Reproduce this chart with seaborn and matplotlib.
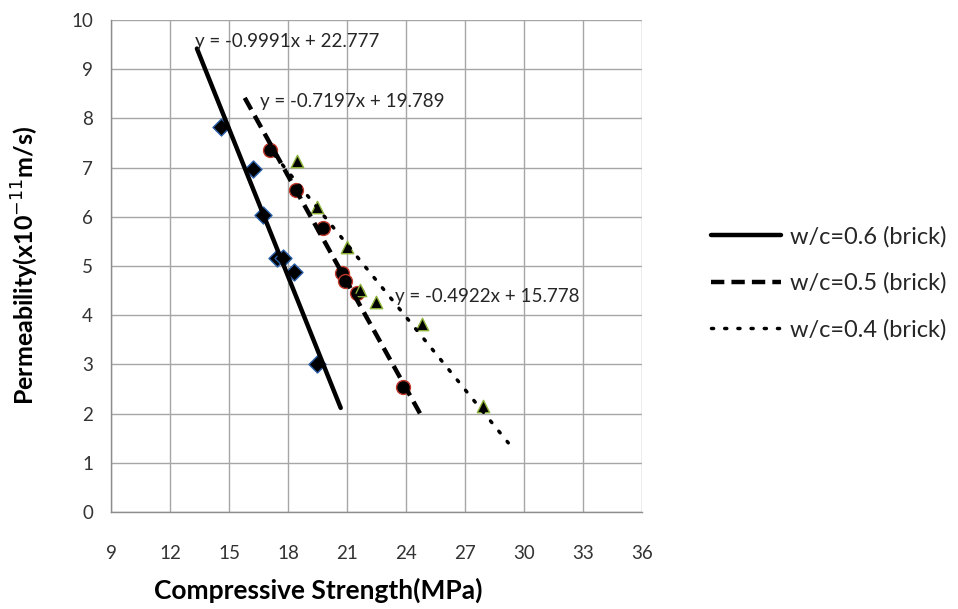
import matplotlib
matplotlib.use("Agg")
import matplotlib.pyplot as plt
import seaborn as sns
import numpy as np
import pandas as pd

# ---- data ----
series_names = ["w/c=0.6 (brick)", "w/c=0.5 (brick)", "w/c=0.4 (brick)"]

x_06 = [14.59, 16.20, 16.75, 17.43, 17.76, 18.32, 19.46]
y_06 = [7.83, 6.97, 6.04, 5.16, 5.16, 4.88, 3.00]

x_05 = [17.08, 18.41, 19.76, 20.73, 20.90, 21.52, 23.83]
y_05 = [7.36, 6.54, 5.77, 4.85, 4.70, 4.46, 2.55]

x_04 = [18.44, 19.46, 21.02, 21.66, 22.47, 24.80, 27.90]
y_04 = [7.13, 6.20, 5.39, 4.51, 4.27, 3.83, 2.16]

# trendline equations (as printed on the chart) and their drawn x extents
slopes = [-0.9991, -0.7197, -0.4922]
intercepts = [22.777, 19.789, 15.778]
trend_x_start = [13.37, 15.80, 17.30]
trend_x_end = [20.68, 24.85, 29.20]
equation_labels = ["y = -0.9991x + 22.777", "y = -0.7197x + 19.789", "y = -0.4922x + 15.778"]

x_ticks = [9, 12, 15, 18, 21, 24, 27, 30, 33, 36]
y_ticks = [0, 1, 2, 3, 4, 5, 6, 7, 8, 9, 10]

# ---- styling ----
sns.set_theme(style="white")
plt.rcParams["font.family"] = ["Lato", "DejaVu Sans"]

fig = plt.figure(figsize=(9.58, 6.09), dpi=100)
ax = fig.add_axes([111 / 958, 1 - 512 / 609, (642 - 111) / 958, (512 - 20) / 609])

edge_colors = ["#2a5fa8", "#c0392b", "#8db33a"]
markers = ["D", "o", "^"]
msizes = [75, 100, 80]
line_styles = [
    dict(linestyle="-", linewidth=3.2),
    dict(linestyle=(0, (3.0, 1.6)), linewidth=3.2),
    dict(linestyle=(0, (0.6, 3.2)), linewidth=2.5, dash_capstyle="round"),
]

pts = [(x_06, y_06), (x_05, y_05), (x_04, y_04)]

# scatter points
for i, (xs, ys) in enumerate(pts):
    df = pd.DataFrame({"x": xs, "y": ys})
    sns.scatterplot(data=df, x="x", y="y", ax=ax, marker=markers[i], s=msizes[i],
                    color="black", edgecolor=edge_colors[i], linewidth=1.0,
                    zorder=3, legend=False)

# trend lines
for i in range(3):
    tx = [trend_x_start[i], trend_x_end[i]]
    ty = [slopes[i] * v + intercepts[i] for v in tx]
    dfl = pd.DataFrame({"x": tx, "y": ty})
    sns.lineplot(data=dfl, x="x", y="y", ax=ax, color="black", zorder=4,
                 label=series_names[i], **line_styles[i])

# equation texts
eq_pos = [(13.27, 9.57), (16.57, 8.35), (23.44, 4.39)]
for (ex, ey), lab in zip(eq_pos, equation_labels):
    ax.text(ex, ey, lab, fontsize=13.5, color="#262626", va="center", ha="left", zorder=5)

ax.set_xlim(9, 36)
ax.set_ylim(0, 10)
ax.set_xticks(x_ticks)
ax.set_yticks(y_ticks)
ax.grid(True, color="#a6a6a6", linewidth=1.0)
ax.set_axisbelow(True)
for s in ["top", "right"]:
    ax.spines[s].set_visible(False)
for s in ["left", "bottom"]:
    ax.spines[s].set_color("#8c8c8c")
    ax.spines[s].set_linewidth(1.0)
ax.tick_params(axis="both", which="both", direction="out", length=5, width=1,
               color="#8c8c8c", labelsize=13.5, labelcolor="#333333", pad=8)
ax.tick_params(axis="x", pad=19)

ax.set_xlabel("Compressive Strength(MPa)", fontsize=19, fontweight="bold", color="black",
              va="center")
ax.xaxis.set_label_coords(0.39, -0.159)
ax.set_ylabel("Permeability(x10$^{-11}$m/s)", fontsize=18, fontweight="bold", color="black",
              va="center")
ax.yaxis.set_label_coords(-0.162, 0.5)

# legend (lines only)
handles, labels = ax.get_legend_handles_labels()
if ax.legend_:
    ax.legend_.remove()
fig.legend(handles, labels, loc="center left", bbox_to_anchor=(0.72, 0.535),
           frameon=False, fontsize=17, handlelength=2.95, handletextpad=0.4,
           labelspacing=1.05, labelcolor="#262626")

fig.savefig("out.png", dpi=100, facecolor="white")
